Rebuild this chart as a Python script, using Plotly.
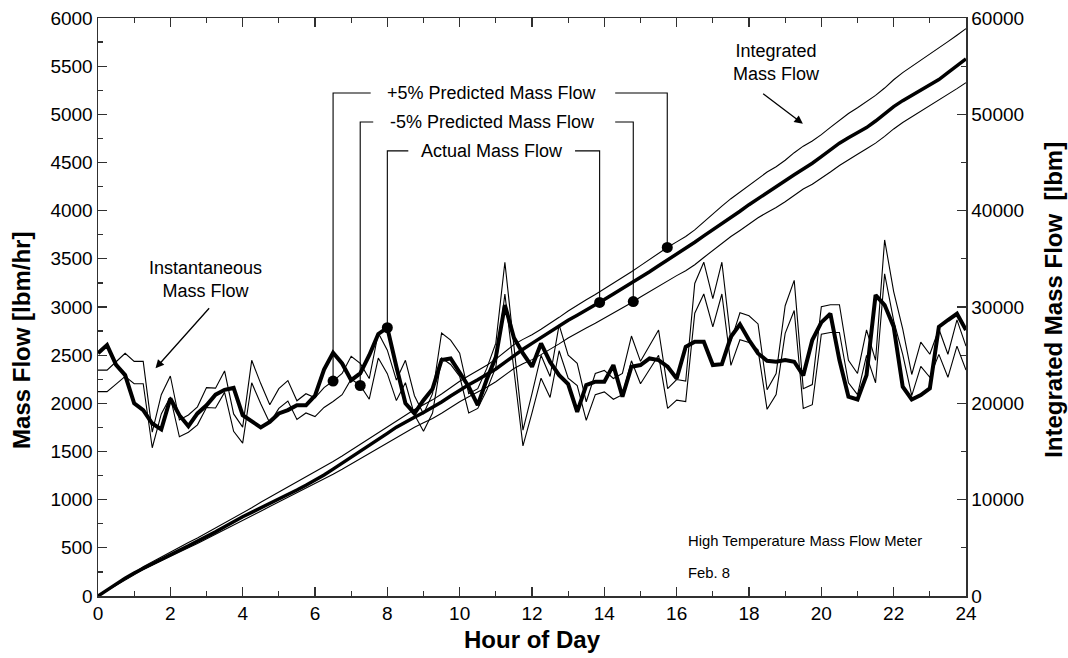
import plotly.graph_objects as go

# ---------------- data ----------------
STEP_HR = 0.25
HOURS = [i * STEP_HR for i in range(97)]

ACTUAL_FLOW = [
    2520, 2605, 2400, 2293, 2000, 1930, 1790, 1730, 2050, 1877, 1763, 1895,
    1980, 2090, 2140, 2160, 1877, 1808, 1750, 1808, 1895, 1930, 1980, 1980,
    2080, 2350, 2525, 2414, 2240, 2310, 2500, 2720, 2785, 2380, 2000, 1895,
    2033, 2150, 2450, 2466, 2320, 2172, 1981, 2250, 2480, 3021, 2680, 2518,
    2380, 2622, 2430, 2293, 2200, 1912, 2189, 2224, 2224, 2397, 2068, 2380,
    2397, 2466, 2449, 2380, 2258, 2587, 2640, 2640, 2397, 2407, 2691, 2820,
    2657, 2518, 2442, 2432, 2449, 2432, 2290, 2657, 2840, 2930, 2449, 2068,
    2040, 2293, 3124, 3020, 2795, 2172, 2040, 2085, 2155, 2795, 2865, 2930,
    2761,
]

PREDICTED_FLOW = [
    2233, 2233, 2316, 2400, 2320, 2320, 1620, 1990, 2175, 1740, 1790, 1870,
    2060, 2055, 2225, 1800, 1670, 2330, 2100, 1890, 2050, 2130, 1930, 2000,
    1960, 2060, 2125, 2200, 2370, 2300, 2150, 2600, 2430, 2135, 2330, 1980,
    1800, 2000, 2600, 2530, 2400, 2000, 2050, 2250, 2500, 3300, 2470, 1640,
    2000, 2380, 2170, 2680, 2380, 2300, 1920, 2200, 2230, 2150, 2200, 2570,
    2320, 2470, 2630, 2050, 2140, 2125, 3090, 3300, 2940, 3300, 2520, 2800,
    2770, 2690, 2040, 2200, 2870, 3120, 2050, 2090, 2860, 2880, 2880, 2330,
    2200, 2630, 2330, 3520, 3010, 2640, 2190, 2510, 2390, 2640, 2390, 2730,
    2470,
]

BAND = 0.05  # +/-5 % predicted band

# callout rows: label, left (instantaneous) hour, right (integrated) hour
CALLOUT_LABELS = ["+5% Predicted Mass Flow", "-5% Predicted Mass Flow", "Actual Mass Flow"]
CALLOUT_INST_HOUR = [6.5, 7.25, 8.0]
CALLOUT_INTEG_HOUR = [15.74, 14.8, 13.87]

X_TICKS = [0, 2, 4, 6, 8, 10, 12, 14, 16, 18, 20, 22, 24]

# ---------------- derived series ----------------
plus5 = [p * (1 + BAND) for p in PREDICTED_FLOW]
minus5 = [p * (1 - BAND) for p in PREDICTED_FLOW]


def integrate(vals):
    out = [0.0]
    for i in range(1, len(vals)):
        out.append(out[-1] + STEP_HR * (vals[i - 1] + vals[i]) / 2.0)
    return out


int_actual = integrate(ACTUAL_FLOW)
int_plus5 = integrate(plus5)
int_minus5 = integrate(minus5)


def interp(xq, xs, ys):
    for i in range(1, len(xs)):
        if xq <= xs[i]:
            t = (xq - xs[i - 1]) / (xs[i] - xs[i - 1])
            return ys[i - 1] + t * (ys[i] - ys[i - 1])
    return ys[-1]


FONT = "Liberation Sans, Arial, sans-serif"
BLACK = "#000000"
AXC = "#303030"

fig = go.Figure()

# instantaneous
fig.add_trace(go.Scatter(x=HOURS, y=plus5, mode="lines", line=dict(color=BLACK, width=1.1), showlegend=False))
fig.add_trace(go.Scatter(x=HOURS, y=minus5, mode="lines", line=dict(color=BLACK, width=1.1), showlegend=False))
fig.add_trace(go.Scatter(x=HOURS, y=ACTUAL_FLOW, mode="lines", line=dict(color=BLACK, width=4), showlegend=False))

# integrated
fig.add_trace(go.Scatter(x=HOURS, y=int_plus5, mode="lines", yaxis="y2", line=dict(color=BLACK, width=1.1), showlegend=False))
fig.add_trace(go.Scatter(x=HOURS, y=int_minus5, mode="lines", yaxis="y2", line=dict(color=BLACK, width=1.1), showlegend=False))
fig.add_trace(go.Scatter(x=HOURS, y=int_actual, mode="lines", yaxis="y2", line=dict(color=BLACK, width=3.5), showlegend=False))

inst_series = [plus5, minus5, ACTUAL_FLOW]
integ_series = [int_plus5, int_minus5, int_actual]

inst_dot_y = [interp(h, HOURS, s) for h, s in zip(CALLOUT_INST_HOUR, inst_series)]
integ_dot_y = [interp(h, HOURS, s) for h, s in zip(CALLOUT_INTEG_HOUR, integ_series)]

fig.add_trace(go.Scatter(x=CALLOUT_INST_HOUR, y=inst_dot_y, mode="markers",
                         marker=dict(color=BLACK, size=11), showlegend=False))
fig.add_trace(go.Scatter(x=CALLOUT_INTEG_HOUR, y=integ_dot_y, mode="markers", yaxis="y2",
                         marker=dict(color=BLACK, size=11), showlegend=False))

# callout brackets (layout)
row_y = [5221, 4920, 4621]
gap_left = [7.54, 7.61, 8.58]
gap_right = [14.30, 14.30, 13.19]
label_x = 10.9
shapes = []
annotations = []
for i, lab in enumerate(CALLOUT_LABELS):
    xl, xr = CALLOUT_INST_HOUR[i], CALLOUT_INTEG_HOUR[i]
    shapes.append(dict(type="path", xref="x", yref="y",
                       path=f"M {xl},{inst_dot_y[i]} L {xl},{row_y[i]} L {gap_left[i]},{row_y[i]}",
                       line=dict(color=BLACK, width=1.1)))
    shapes.append(dict(type="path", xref="x", yref="y2",
                       path=f"M {gap_right[i]},{row_y[i]*10} L {xr},{row_y[i]*10} L {xr},{integ_dot_y[i]}",
                       line=dict(color=BLACK, width=1.1)))
    annotations.append(dict(x=label_x, y=row_y[i], xref="x", yref="y", text=lab, showarrow=False,
                            font=dict(family=FONT, size=18, color=BLACK), xanchor="center", yanchor="middle"))

# text labels with arrows
annotations += [
    dict(x=2.97, y=3285, xref="x", yref="y", text="Instantaneous<br>Mass Flow", showarrow=False,
         font=dict(family=FONT, size=18, color=BLACK), xanchor="center", yanchor="middle"),
    dict(x=1.59, y=2363, xref="x", yref="y", ax=3.11, ay=3003, axref="x", ayref="y", text="",
         showarrow=True, arrowhead=2, arrowsize=1.3, arrowwidth=1.3, arrowcolor=BLACK),
    dict(x=18.77, y=5537, xref="x", yref="y", text="Integrated<br>Mass Flow", showarrow=False,
         font=dict(family=FONT, size=18, color=BLACK), xanchor="center", yanchor="middle"),
    dict(x=19.49, y=4901, xref="x", yref="y", ax=18.35, ay=5226, axref="x", ayref="y", text="",
         showarrow=True, arrowhead=2, arrowsize=1.3, arrowwidth=1.3, arrowcolor=BLACK),
    dict(x=16.26, y=568, xref="x", yref="y", text="High Temperature Mass Flow Meter", showarrow=False,
         font=dict(family=FONT, size=14.8, color=BLACK), xanchor="left", yanchor="middle"),
    dict(x=16.26, y=236, xref="x", yref="y", text="Feb. 8", showarrow=False,
         font=dict(family=FONT, size=14.8, color=BLACK), xanchor="left", yanchor="middle"),
    # axis titles
    dict(x=-0.0876, y=0.443, xref="paper", yref="paper", text="<b>Mass Flow [lbm/hr]</b>", textangle=-90,
         showarrow=False, font=dict(family=FONT, size=24, color=BLACK), xanchor="center", yanchor="middle"),
    dict(x=1.100, y=0.512, xref="paper", yref="paper", text="<b>Integrated Mass Flow&nbsp; [lbm]</b>", textangle=-90,
         showarrow=False, font=dict(family=FONT, size=24, color=BLACK), xanchor="center", yanchor="middle"),
    dict(x=0.5, y=-0.076, xref="paper", yref="paper", text="<b>Hour of Day</b>",
         showarrow=False, font=dict(family=FONT, size=24, color=BLACK), xanchor="center", yanchor="middle"),
]

axis_common = dict(showline=True, linecolor=AXC, linewidth=1.5, ticks="inside", ticklen=9,
                   tickwidth=1.3, tickcolor=AXC, showgrid=False, zeroline=False, automargin=False,
                   tickfont=dict(family=FONT, size=19, color=BLACK))

fig.update_layout(
    template="none",
    width=1068, height=658,
    margin=dict(l=98, r=102, t=18, b=62, autoexpand=False),
    paper_bgcolor="white", plot_bgcolor="white",
    showlegend=False,
    hovermode=False,
    xaxis=dict(range=[0, 24], tickvals=X_TICKS, mirror="ticks",
               minor=dict(dtick=1, ticklen=5, ticks="inside", tickcolor=AXC, tickwidth=1.3),
               **axis_common),
    yaxis=dict(range=[0, 6000], dtick=500, tickformat="d",
               minor=dict(dtick=250, ticklen=5, ticks="inside", tickcolor=AXC, tickwidth=1.3),
               **axis_common),
    yaxis2=dict(range=[0, 60000], dtick=10000, overlaying="y", side="right", tickformat="d",
                minor=dict(dtick=5000, ticklen=5, ticks="inside", tickcolor=AXC, tickwidth=1.3),
                **axis_common),
    shapes=shapes,
    annotations=annotations,
)

fig.write_html("out.html",
               config={"displayModeBar": False, "staticPlot": True},
               post_script="document.body.style.margin='0';document.body.style.overflow='hidden';")
